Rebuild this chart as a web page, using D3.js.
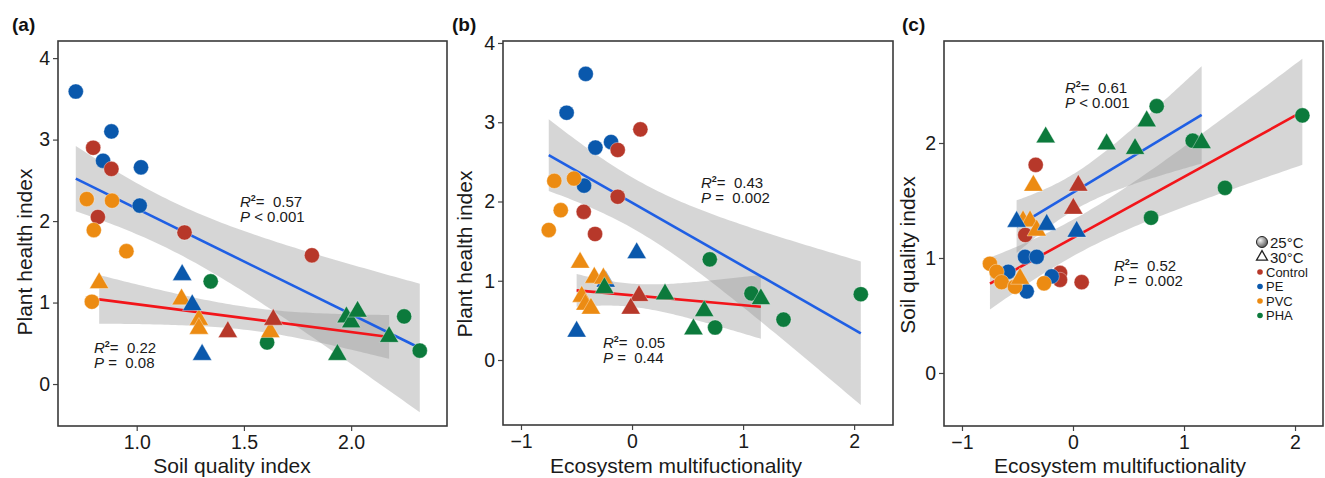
<!DOCTYPE html>
<html>
<head>
<meta charset="utf-8">
<script src="https://cdn.jsdelivr.net/npm/d3@7"></script>
<style>
  body { margin: 0; background: #fff; }
  svg { font-family: Arial, "Liberation Sans", sans-serif; }
</style>
</head>
<body>
<svg width="1325" height="478"></svg>
<script>
// treatment groups and their point colours
const groups = ["Control", "PE", "PVC", "PHA"];
const groupColors = ["#b7382a", "#0a58ac", "#ec8b12", "#0c7a3c"];

// [group, x, y]; circles = 25°C, triangles = 30°C
// (a) soil quality index vs plant health index
const circlesA = [
  ["PE", 0.716, 3.59], ["PE", 0.882, 3.10], ["PE", 0.843, 2.74], ["PE", 1.02, 2.66], ["PE", 1.014, 2.19],
  ["Control", 0.797, 2.90], ["Control", 0.882, 2.64], ["Control", 0.819, 2.05], ["Control", 1.223, 1.86], ["Control", 1.817, 1.58],
  ["PVC", 0.767, 2.27], ["PVC", 0.885, 2.25], ["PVC", 0.80, 1.89], ["PVC", 0.952, 1.63], ["PVC", 0.791, 1.01],
  ["PHA", 1.345, 1.26], ["PHA", 1.608, 0.51], ["PHA", 2.247, 0.83], ["PHA", 2.32, 0.41]
];
const trianglesA = [
  ["PVC", 0.825, 1.24], ["PVC", 1.209, 1.04], ["PVC", 1.29, 0.79], ["PVC", 1.29, 0.68], ["PVC", 1.623, 0.64],
  ["PE", 1.212, 1.34], ["PE", 1.259, 0.97], ["PE", 1.305, 0.36],
  ["Control", 1.425, 0.64], ["Control", 1.637, 0.79],
  ["PHA", 1.978, 0.82], ["PHA", 2.0, 0.76], ["PHA", 2.03, 0.89], ["PHA", 2.177, 0.58], ["PHA", 1.936, 0.36]
];

// (b) ecosystem multifunctionality vs plant health index
const circlesB = [
  ["PE", -0.417, 3.61], ["PE", -0.589, 3.12], ["PE", -0.33, 2.68], ["PE", -0.189, 2.75], ["PE", -0.432, 2.20],
  ["Control", 0.075, 2.91], ["Control", -0.129, 2.65], ["Control", -0.129, 2.06], ["Control", -0.435, 1.87], ["Control", -0.333, 1.59],
  ["PVC", -0.70, 2.26], ["PVC", -0.523, 2.29], ["PVC", -0.642, 1.89], ["PVC", -0.75, 1.64],
  ["PHA", 0.70, 1.27], ["PHA", 1.075, 0.84], ["PHA", 0.748, 0.41], ["PHA", 1.364, 0.51], ["PHA", 2.06, 0.83]
];
const trianglesB = [
  ["PE", 0.042, 1.35], ["PE", -0.237, 0.99], ["PE", -0.499, 0.36],
  ["PVC", -0.468, 1.23], ["PVC", -0.34, 1.04], ["PVC", -0.258, 1.03], ["PVC", -0.453, 0.80], ["PVC", -0.42, 0.70], ["PVC", -0.37, 0.65],
  ["PHA", -0.249, 0.91], ["PHA", 0.297, 0.83], ["PHA", 1.16, 0.77], ["PHA", 0.65, 0.62], ["PHA", 0.553, 0.39],
  ["Control", 0.063, 0.81], ["Control", -0.012, 0.65]
];

// (c) ecosystem multifunctionality vs soil quality index
const circlesC = [
  ["PHA", 0.754, 2.32], ["PHA", 2.066, 2.24], ["PHA", 1.078, 2.02], ["PHA", 1.369, 1.61], ["PHA", 0.703, 1.35],
  ["Control", -0.336, 1.81], ["Control", -0.43, 1.20], ["Control", -0.117, 0.87], ["Control", -0.117, 0.81], ["Control", 0.078, 0.79],
  ["PE", -0.432, 1.01], ["PE", -0.327, 1.01], ["PE", -0.583, 0.88], ["PE", -0.417, 0.71], ["PE", -0.192, 0.84],
  ["PVC", -0.748, 0.95], ["PVC", -0.688, 0.88], ["PVC", -0.643, 0.79], ["PVC", -0.523, 0.75], ["PVC", -0.261, 0.78]
];
const trianglesC = [
  ["PHA", 0.664, 2.19], ["PHA", -0.246, 2.05], ["PHA", 0.303, 1.99], ["PHA", 0.559, 1.95], ["PHA", 1.159, 2.0],
  ["Control", 0.048, 1.63], ["Control", 0.003, 1.43],
  ["PVC", -0.357, 1.63], ["PVC", -0.45, 1.32], ["PVC", -0.387, 1.32], ["PVC", -0.327, 1.24], ["PVC", -0.477, 0.82],
  ["PE", -0.508, 1.316], ["PE", -0.237, 1.29], ["PE", 0.033, 1.23]
];

// tick values
const ticksAx = [1.0, 1.5, 2.0], ticksAy = [0, 1, 2, 3, 4];
const ticksBx = [-1, 0, 1, 2], ticksBy = [0, 1, 2, 3, 4];
const ticksCx = [-1, 0, 1, 2], ticksCy = [0, 1, 2];

// fit statistics: [R2, P sign, P value]
const statsA = [["0.57", "<", "0.001"], ["0.22", "=", "0.08"]];
const statsB = [["0.43", "=", "0.002"], ["0.05", "=", "0.44"]];
const statsC = [["0.61", "<", "0.001"], ["0.52", "=", "0.002"]];

const legendTemps = ["25°C", "30°C"];

const svg = d3.select("svg");
const color = d3.scaleOrdinal().domain(groups).range(groupColors);
const BLUE = "#1f5fe4", RED = "#f2151a";

// 95% t quantile (Cornish-Fisher approx)
function tq(df) {
  const z = 1.959964;
  return z + (z ** 3 + z) / (4 * df) + (5 * z ** 5 + 16 * z ** 3 + 3 * z) / (96 * df * df);
}

function fit(pts) {
  const n = pts.length;
  const mx = d3.mean(pts, d => d[1]), my = d3.mean(pts, d => d[2]);
  const sxx = d3.sum(pts, d => (d[1] - mx) ** 2);
  const sxy = d3.sum(pts, d => (d[1] - mx) * (d[2] - my));
  const b = sxy / sxx, a = my - b * mx;
  const s = Math.sqrt(d3.sum(pts, d => (d[2] - a - b * d[1]) ** 2) / (n - 2));
  const t = tq(n - 2);
  const [x0, x1] = d3.extent(pts, d => d[1]);
  const band = d3.range(81).map(i => {
    const x = x0 + (x1 - x0) * i / 80;
    const h = t * s * Math.sqrt(1 / n + (x - mx) ** 2 / sxx);
    return [x, a + b * x - h, a + b * x + h];
  });
  return { a, b, x0, x1, band };
}

const panels = [
  { tag: "(a)", tagX: 12, box: [58, 447, 41, 426], xd: [0.633, 2.447], yd: [-0.515, 4.21],
    xt: ticksAx, yt: ticksAy, xf: d3.format(".1f"),
    circles: circlesA, triangles: trianglesA, cCol: BLUE, tCol: RED,
    xTitle: "Soil quality index", xTitleX: 232, yTitle: "Plant health index", yTitleX: 32, yTitleY: 252,
    stats: statsA, statPos: [[240, 207], [94, 353]] },
  { tag: "(b)", tagX: 452, box: [503, 893, 41, 425], xd: [-1.162, 2.35], yd: [-0.82, 4.025],
    xt: ticksBx, yt: ticksBy, xf: d3.format("d"),
    circles: circlesB, triangles: trianglesB, cCol: BLUE, tCol: RED,
    xTitle: "Ecosystem multifuctionality", xTitleX: 676, yTitle: "Plant health index", yTitleX: 472, yTitleY: 254,
    stats: statsB, statPos: [[701, 188], [603, 348]] },
  { tag: "(c)", tagX: 902, box: [944, 1323, 41, 426], xd: [-1.162, 2.252], yd: [-0.461, 2.887],
    xt: ticksCx, yt: ticksCy, xf: d3.format("d"),
    circles: circlesC, triangles: trianglesC, cCol: RED, tCol: BLUE,
    xTitle: "Ecosystem multifuctionality", xTitleX: 1120, yTitle: "Soil quality index", yTitleX: 915, yTitleY: 255,
    stats: statsC, statPos: [[1065, 93], [1114, 271]] }
];

panels.forEach((p, pi) => {
  const [L, R, T, B] = p.box;
  const x = d3.scaleLinear().domain(p.xd).range([L, R]);
  const y = d3.scaleLinear().domain(p.yd).range([B, T]);
  const g = svg.append("g");

  g.append("clipPath").attr("id", "clip" + pi)
    .append("rect").attr("x", L).attr("y", T).attr("width", R - L).attr("height", B - T);
  const plot = g.append("g").attr("clip-path", `url(#clip${pi})`);

  const fits = [[fit(p.circles), p.cCol], [fit(p.triangles), p.tCol]];
  const area = d3.area().x(d => x(d[0])).y0(d => y(d[1])).y1(d => y(d[2]));

  fits.forEach(([f]) => {
    plot.append("path").attr("d", area(f.band))
      .attr("fill", "#999").attr("fill-opacity", 0.4);
  });
  fits.forEach(([f, col]) => {
    plot.append("line")
      .attr("x1", x(f.x0)).attr("y1", y(f.a + f.b * f.x0))
      .attr("x2", x(f.x1)).attr("y2", y(f.a + f.b * f.x1))
      .attr("stroke", col).attr("stroke-width", 2.6);
  });

  plot.selectAll(".c").data(p.circles).enter().append("circle")
    .attr("cx", d => x(d[1])).attr("cy", d => y(d[2])).attr("r", 7.6)
    .attr("fill", d => color(d[0]))
    .attr("stroke", "#fff").attr("stroke-width", 0.6).attr("stroke-opacity", 0.6);

  const tri = d3.symbol(d3.symbolTriangle, 160);
  plot.selectAll(".t").data(p.triangles).enter().append("path")
    .attr("d", tri)
    .attr("transform", d => `translate(${x(d[1])},${y(d[2])})`)
    .attr("fill", d => color(d[0]))
    .attr("stroke", "#fff").attr("stroke-width", 0.6).attr("stroke-opacity", 0.6);

  // axes
  const xa = g.append("g").attr("transform", `translate(0,${B})`)
    .call(d3.axisBottom(x).tickValues(p.xt).tickFormat(p.xf).tickSize(5).tickPadding(4));
  const ya = g.append("g").attr("transform", `translate(${L},0)`)
    .call(d3.axisLeft(y).tickValues(p.yt).tickFormat(d3.format("d")).tickSize(5).tickPadding(3));
  [xa, ya].forEach(a => {
    a.select(".domain").remove();
    a.selectAll(".tick line").attr("stroke", "#444").attr("stroke-width", 1.2);
    a.selectAll(".tick text").attr("fill", "#1a1a1a").style("font-size", "19.5px")
      .style("font-family", "Arial, 'Liberation Sans', sans-serif");
  });

  g.append("rect").attr("x", L).attr("y", T).attr("width", R - L).attr("height", B - T)
    .attr("fill", "none").attr("stroke", "#3a3a3a").attr("stroke-width", 1.6);

  g.append("text").attr("x", p.xTitleX).attr("y", 473).attr("text-anchor", "middle")
    .style("font-size", "21px").attr("fill", "#1a1a1a").text(p.xTitle);
  g.append("text").attr("transform", `translate(${p.yTitleX},${p.yTitleY}) rotate(-90)`)
    .attr("text-anchor", "middle").style("font-size", "21px").attr("fill", "#1a1a1a").text(p.yTitle);

  g.append("text").attr("x", p.tagX).attr("y", 31).style("font-size", "19px")
    .style("font-weight", "bold").attr("fill", "#111").text(p.tag);

  // R2 / P annotations
  p.stats.forEach((s, i) => {
    const [sx, sy] = p.statPos[i];
    const t1 = g.append("text").attr("x", sx).attr("y", sy).style("font-size", "15px")
      .attr("fill", "#1a1a1a").style("white-space", "pre");
    t1.append("tspan").style("font-style", "italic").text("R");
    t1.append("tspan").attr("dy", -6).style("font-size", "9px").style("font-weight", "bold").text("2");
    t1.append("tspan").attr("dy", 6).text("=  " + s[0]);
    const t2 = g.append("text").attr("x", sx).attr("y", sy + 15).style("font-size", "15px")
      .attr("fill", "#1a1a1a").style("white-space", "pre");
    t2.append("tspan").style("font-style", "italic").text("P");
    t2.append("tspan").text(s[1] === "<" ? " < " + s[2] : " =  " + s[2]);
  });
});

// legend (inside panel c)
const defs = svg.append("defs");
const grad = defs.append("radialGradient").attr("id", "shade").attr("cx", "35%").attr("cy", "35%").attr("r", "70%");
grad.append("stop").attr("offset", "0%").attr("stop-color", "#f4f4f4");
grad.append("stop").attr("offset", "100%").attr("stop-color", "#555");

const lg = svg.append("g");
lg.append("circle").attr("cx", 1262).attr("cy", 242).attr("r", 5.5)
  .attr("fill", "url(#shade)").attr("stroke", "#222").attr("stroke-width", 1);
lg.append("path").attr("d", d3.symbol(d3.symbolTriangle, 52)())
  .attr("transform", "translate(1262,257)").attr("fill", "#fff").attr("stroke", "#222").attr("stroke-width", 1.3);
legendTemps.forEach((t, i) => {
  lg.append("text").attr("x", 1270).attr("y", 247.5 + i * 15).style("font-size", "15px")
    .attr("fill", "#1a1a1a").text(t);
});
groups.forEach((gname, i) => {
  const yy = 272 + i * 14.5;
  lg.append("circle").attr("cx", 1260).attr("cy", yy).attr("r", 2.8).attr("fill", color(gname));
  lg.append("text").attr("x", 1266).attr("y", yy + 4.7).style("font-size", "13px")
    .attr("fill", "#1a1a1a").text(gname);
});
</script>
</body>
</html>
